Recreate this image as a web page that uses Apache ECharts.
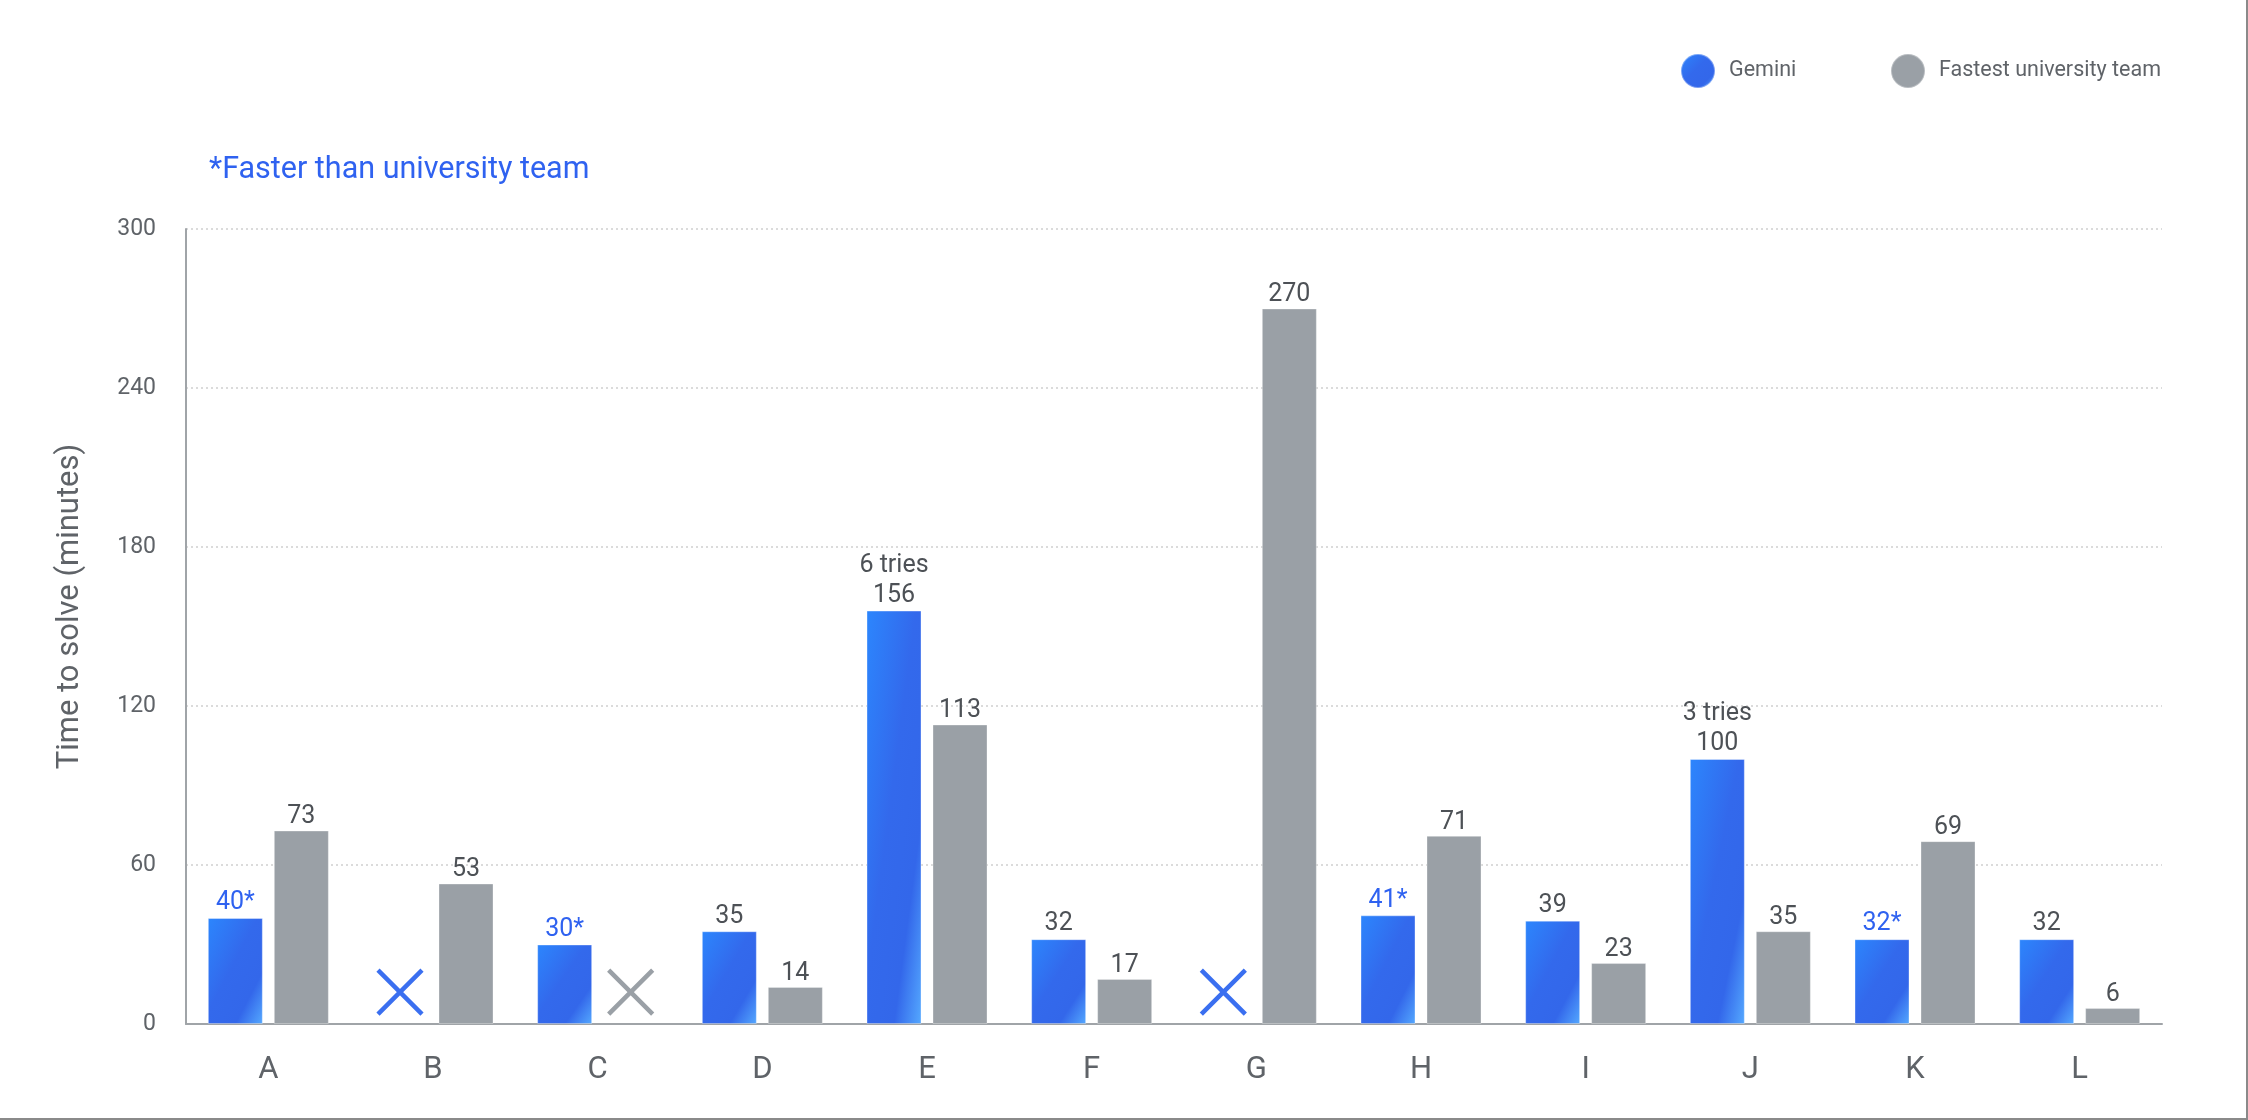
<!DOCTYPE html>
<html>
<head>
<meta charset="utf-8">
<script src="https://cdn.jsdelivr.net/npm/echarts@6/dist/echarts.min.js"></script>
<style>
html,body{margin:0;padding:0;background:#fff;}
#chart{width:2248px;height:1120px;}
</style>
</head>
<body>
<div id="chart"></div>
<script>
// ---- data ----
const categories = ['A','B','C','D','E','F','G','H','I','J','K','L'];
const geminiTimes = [40, null, 30, 35, 156, 32, null, 41, 39, 100, 32, 32];
const universityTimes = [73, 53, null, 14, 113, 17, 270, 71, 23, 35, 69, 6];
const geminiTries = ['', '', '', '', '6 tries', '', '', '', '', '3 tries', '', ''];
const geminiFaster = [true, false, true, false, false, false, false, true, false, false, true, false];
const geminiUnsolved = ['B', 'G'];
const universityUnsolved = ['C'];
const yTicks = [0, 60, 120, 180, 240, 300];
const seriesNames = ['Gemini', 'Fastest university team'];
const noteText = '*Faster than university team';
const yAxisTitle = 'Time to solve (minutes)';

// ---- styles ----
const FONT = 'Roboto, "Noto Sans", sans-serif';
const TEXT_GRAY = '#5f6368';
const LABEL_GRAY = '#4d5156';
const BLUE_TEXT = '#2f62f0';
const GRAY_BAR = '#9aa0a6';
const BLUE_STOPS = [
  {offset: 0, color: '#2c86fd'},
  {offset: 0.45, color: '#3369ec'},
  {offset: 0.75, color: '#3367ea'},
  {offset: 1, color: '#55a9ff'}
];
const BAR_W = 55;
// diagonal gradient whose isolines follow the bar's own diagonal, whatever its height
function blueGrad(h) {
  const w = BAR_W, s = h * h + w * w;
  return new echarts.graphic.LinearGradient(0, 0, 2 * h * h / s, 2 * w * w / s, BLUE_STOPS);
}
const legendBlue = new echarts.graphic.LinearGradient(0, 0, 1, 1, BLUE_STOPS);
const X_PATH = 'path://M0,0 L10,10 M10,0 L0,10';
const X_LEVEL = 12;

function geminiData(pxPerUnit) {
  return geminiTimes.map((v, i) => {
    if (v === null) return '-';
    const starred = geminiFaster[i];
    const tries = geminiTries[i];
    const h = pxPerUnit ? v * pxPerUnit : BAR_W;
    return {
      value: v,
      itemStyle: {color: blueGrad(h)},
      label: {
        color: starred ? BLUE_TEXT : LABEL_GRAY,
        formatter: (tries ? tries + '\n' : '') + v + (starred ? '*' : '')
      }
    };
  });
}
const uniData = universityTimes.map(v => v === null ? '-' : v);

function xMarks(cats, color) {
  return {
    symbol: X_PATH,
    symbolSize: 44,
    silent: true,
    label: {show: false},
    itemStyle: {color: 'none', borderColor: color, borderWidth: 4.5},
    data: cats.map(c => ({coord: [c, X_LEVEL]}))
  };
}

const legendText = {fontFamily: FONT, fontSize: 21.5, color: TEXT_GRAY, padding: [0, 0, 0, 9]};

const chart = echarts.init(document.getElementById('chart'), null, {renderer: 'canvas'});
chart.setOption({
  animation: false,
  backgroundColor: '#ffffff',
  textStyle: {fontFamily: FONT},
  grid: {left: 186, right: 86, top: 229, bottom: 96, containLabel: false},
  legend: [
    {
      left: 1675, top: 48, icon: 'circle', itemWidth: 34, itemHeight: 34,
      textStyle: legendText,
      data: [{name: seriesNames[0], itemStyle: {color: legendBlue}}]
    },
    {
      left: 1885, top: 48, icon: 'circle', itemWidth: 34, itemHeight: 34,
      textStyle: legendText,
      data: [{name: seriesNames[1], itemStyle: {color: GRAY_BAR}}]
    }
  ],
  graphic: [
    {
      type: 'text', x: 209, y: 170,
      style: {text: noteText, fill: BLUE_TEXT, fontFamily: FONT, fontSize: 30.5, verticalAlign: 'middle'}
    },
    {type: 'rect', right: 0, top: 0, shape: {width: 2, height: 1120}, style: {fill: '#8a8a8a'}},
    {type: 'rect', left: 0, bottom: 0, shape: {width: 2248, height: 2}, style: {fill: '#8a8a8a'}}
  ],
  xAxis: {
    type: 'category',
    data: categories,
    axisLine: {show: true, lineStyle: {color: '#a0a4a8', width: 2}},
    axisTick: {show: false},
    axisLabel: {fontFamily: FONT, fontSize: 31, color: TEXT_GRAY, margin: 31},
    splitLine: {show: false}
  },
  yAxis: {
    type: 'value',
    min: yTicks[0],
    max: yTicks[yTicks.length - 1],
    interval: yTicks[1] - yTicks[0],
    name: yAxisTitle,
    nameLocation: 'middle',
    nameGap: 100,
    nameTextStyle: {fontFamily: FONT, fontSize: 31, color: TEXT_GRAY, padding: [0, 0, 0, 40]},
    axisLine: {show: true, lineStyle: {color: '#a0a4a8', width: 2}},
    axisTick: {show: false},
    axisLabel: {fontFamily: FONT, fontSize: 23, color: TEXT_GRAY, margin: 30},
    splitLine: {show: true, lineStyle: {color: '#cfcfcf', type: [2, 3], width: 1.5}}
  },
  series: [
    {
      name: seriesNames[0],
      type: 'bar',
      barWidth: BAR_W,
      barGap: '20%',
      data: geminiData(null),
      itemStyle: {color: legendBlue, borderColor: 'rgba(255,255,255,0.35)', borderWidth: 1},
      label: {show: true, position: 'top', distance: 0, fontFamily: FONT, fontSize: 25, lineHeight: 30, color: LABEL_GRAY},
      markPoint: xMarks(geminiUnsolved, '#3a6ff0')
    },
    {
      name: seriesNames[1],
      type: 'bar',
      barWidth: BAR_W,
      barGap: '20%',
      data: uniData,
      itemStyle: {color: GRAY_BAR, borderColor: 'rgba(255,255,255,0.3)', borderWidth: 1},
      label: {show: true, position: 'top', distance: 1, fontFamily: FONT, fontSize: 25, color: LABEL_GRAY},
      markPoint: xMarks(universityUnsolved, GRAY_BAR)
    }
  ]
});

// second pass: per-bar gradient geometry from the axis scale
const y0 = chart.convertToPixel({yAxisIndex: 0}, 0);
const y1 = chart.convertToPixel({yAxisIndex: 0}, 1);
const pxPerUnit = Math.abs(y0 - y1);
chart.setOption({series: [{name: seriesNames[0], data: geminiData(pxPerUnit)}]});
</script>
</body>
</html>
